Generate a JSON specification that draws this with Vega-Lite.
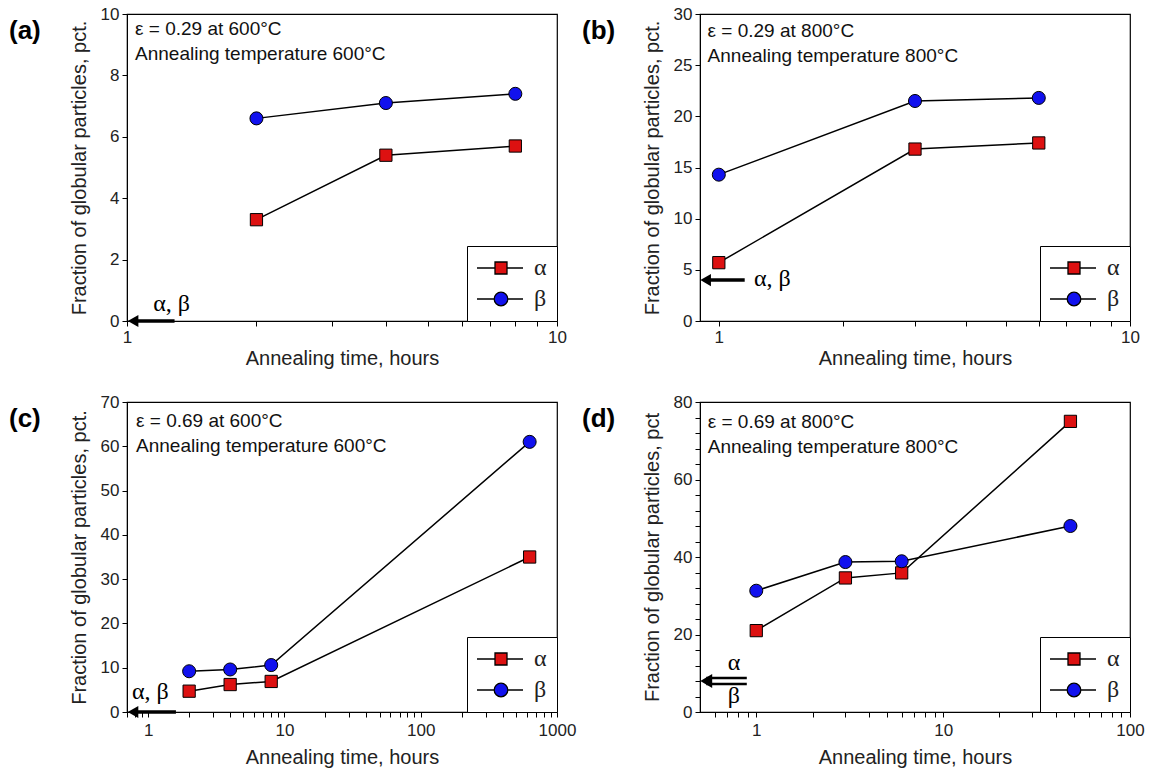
{
  "$schema": "https://vega.github.io/schema/vega-lite/v6.json",
  "background": "white",
  "padding": {"left": 8, "top": 4, "right": 0, "bottom": 0},
  "columns": 2,
  "spacing": {"row": 23, "column": 4},
  "datasets": {
    "a_pts": [
      {"t": 2, "v": 3.3, "phase": "α"}, {"t": 4, "v": 5.4, "phase": "α"}, {"t": 8, "v": 5.7, "phase": "α"},
      {"t": 2, "v": 6.6, "phase": "β"}, {"t": 4, "v": 7.1, "phase": "β"}, {"t": 8, "v": 7.4, "phase": "β"}
    ],
    "b_pts": [
      {"t": 1, "v": 5.7, "phase": "α"}, {"t": 3, "v": 16.8, "phase": "α"}, {"t": 6, "v": 17.4, "phase": "α"},
      {"t": 1, "v": 14.3, "phase": "β"}, {"t": 3, "v": 21.5, "phase": "β"}, {"t": 6, "v": 21.8, "phase": "β"}
    ],
    "c_pts": [
      {"t": 2, "v": 4.7, "phase": "α"}, {"t": 4, "v": 6.2, "phase": "α"}, {"t": 8, "v": 6.9, "phase": "α"}, {"t": 630, "v": 35, "phase": "α"},
      {"t": 2, "v": 9.2, "phase": "β"}, {"t": 4, "v": 9.6, "phase": "β"}, {"t": 8, "v": 10.6, "phase": "β"}, {"t": 630, "v": 61, "phase": "β"}
    ],
    "d_pts": [
      {"t": 1, "v": 21, "phase": "α"}, {"t": 3, "v": 34.6, "phase": "α"}, {"t": 6, "v": 35.9, "phase": "α"}, {"t": 48, "v": 75, "phase": "α"},
      {"t": 1, "v": 31.3, "phase": "β"}, {"t": 3, "v": 38.7, "phase": "β"}, {"t": 6, "v": 38.9, "phase": "β"}, {"t": 48, "v": 48, "phase": "β"}
    ],
    "a_notes": [{"t": 1.044, "v": 9.5, "label": "ε = 0.29 at 600°C"}, {"t": 1.044, "v": 8.7, "label": "Annealing temperature 600°C"}],
    "b_notes": [{"t": 0.939, "v": 28.3, "label": "ε = 0.29 at 800°C"}, {"t": 0.939, "v": 25.9, "label": "Annealing temperature 800°C"}],
    "c_notes": [{"t": 0.815, "v": 65.8, "label": "ε = 0.69 at 600°C"}, {"t": 0.815, "v": 60.1, "label": "Annealing temperature 600°C"}],
    "d_notes": [{"t": 0.55, "v": 74.8, "label": "ε = 0.69 at 800°C"}, {"t": 0.55, "v": 68.4, "label": "Annealing temperature 800°C"}],
    "a_greek": [{"t": 1.27, "v": 0.56, "label": "α, β"}],
    "b_greek": [{"t": 1.35, "v": 4.1, "label": "α, β"}],
    "c_greek": [{"t": 1.04, "v": 4.5, "label": "α, β"}],
    "d_greek": [{"t": 0.76, "v": 12.6, "label": "α"}, {"t": 0.76, "v": 4.1, "label": "β"}],
    "a_shaft": [{"t": 1.033, "t2": 1.29, "v": 0}],
    "b_shaft": [{"t": 0.929, "t2": 1.156, "v": 4}],
    "c_shaft": [{"t": 0.775, "t2": 1.6, "v": 0}],
    "d_shaft": [{"t": 0.54, "t2": 0.89, "v": 8.75}, {"t": 0.54, "t2": 0.89, "v": 7.25}],
    "a_head": [{"t": 1.033, "v": 0}],
    "b_head": [{"t": 0.929, "v": 4}],
    "c_head": [{"t": 0.775, "v": 0}],
    "d_head": [{"t": 0.54, "v": 8}]
  },
  "config": {
    "view": {"stroke": "black", "strokeWidth": 1.2},
    "axis": {
      "domainColor": "black", "tickColor": "black", "grid": false, "tickSize": 5,
      "labelFont": "Liberation Sans", "titleFont": "Liberation Sans",
      "labelFontSize": 17, "titleFontSize": 20, "titleFontWeight": "normal",
      "labelColor": "#222", "titleColor": "#222", "labelFlush": false, "labelOverlap": false,
      "labelPadding": 3
    },
    "axisX": {"titlePadding": 3},
    "axisY": {"titlePadding": 11},
    "legend": {
      "orient": "bottom-right", "offset": 0, "strokeColor": "black", "fillColor": "white",
      "padding": 10, "labelFont": "Liberation Serif", "labelFontSize": 24, "labelColor": "#222",
      "symbolSize": 400, "rowPadding": 7, "labelOffset": 33, "symbolStrokeWidth": 1.3,
      "symbolOpacity": 1, "symbolStrokeColor": "black"
    },
    "title": {"font": "Liberation Sans", "fontSize": 26, "fontWeight": "bold", "anchor": "start", "frame": "group", "dx": -118, "dy": 43, "offset": 0, "color": "black"}
  },
  "resolve": {
    "scale": {"color": "independent", "shape": "independent", "fill": "independent", "stroke": "independent"},
    "legend": {"color": "independent", "shape": "independent", "fill": "independent", "stroke": "independent"}
  },
  "concat": [
    {
      "title": {"text": "(a)"},
      "width": 430, "height": 307,
      "encoding": {
        "x": {"field": "t", "type": "quantitative", "scale": {"type": "log", "domain": [1, 10], "nice": false},
              "axis": {"title": "Annealing time, hours", "values": [1, 2, 3, 4, 5, 6, 7, 8, 9, 10],
                       "labelExpr": "datum.value == 1 || datum.value == 10 || datum.value == 100 || datum.value == 1000 ? format(datum.value, 'd') : ''"}},
        "y": {"field": "v", "type": "quantitative", "scale": {"domain": [0, 10], "nice": false},
              "axis": {"title": "Fraction of globular particles, pct.", "values": [0, 2, 4, 6, 8, 10]}}
      },
      "layer": [
        {"data": {"name": "a_shaft"}, "mark": {"type": "rule", "strokeWidth": 3.5, "color": "black"}, "encoding": {"x2": {"field": "t2"}}},
        {"data": {"name": "a_head"}, "mark": {"type": "point", "shape": "triangle-left", "filled": true, "color": "black", "size": 150, "opacity": 1}},
        {"data": {"name": "a_pts"}, "mark": {"type": "line", "color": "black", "strokeWidth": 1.5}, "encoding": {"detail": {"field": "phase"}}},
        {"data": {"name": "a_pts"},
         "mark": {"type": "point", "filled": true, "strokeWidth": 1.3, "opacity": 0},
         "encoding": {
           "color": {"field": "phase", "type": "nominal", "scale": {"domain": ["α", "β"], "range": ["#dd1111", "#1111ee"]}, "legend": {"title": null}},
           "stroke": {"field": "phase", "type": "nominal", "scale": {"domain": ["α", "β"], "range": ["black", "black"]}, "legend": {"title": null}},
           "shape": {"field": "phase", "type": "nominal", "scale": {"domain": ["α", "β"], "range": ["M-1.2,0H0.6M1.8,0H3.4M0.6,-0.6H1.8V0.6H0.6Z", "M-1.2,0H0.52M1.88,0H3.4M0.52,0A0.68,0.68 0 1,0 1.88,0A0.68,0.68 0 1,0 0.52,0Z"]}, "legend": {"title": null}}
         }},
        {"data": {"name": "a_pts"}, "transform": [{"filter": "datum.phase == 'α'"}],
         "mark": {"type": "point", "shape": "square", "filled": true, "stroke": "black", "strokeWidth": 1, "size": 150, "opacity": 1},
         "encoding": {"fill": {"field": "phase", "type": "nominal", "scale": {"domain": ["α", "β"], "range": ["#dd1111", "#1111ee"]}, "legend": null}}},
        {"data": {"name": "a_pts"}, "transform": [{"filter": "datum.phase == 'β'"}],
         "mark": {"type": "point", "shape": "circle", "filled": true, "stroke": "black", "strokeWidth": 1, "size": 170, "opacity": 1},
         "encoding": {"fill": {"field": "phase", "type": "nominal", "scale": {"domain": ["α", "β"], "range": ["#dd1111", "#1111ee"]}, "legend": null}}},
        {"data": {"name": "a_greek"}, "mark": {"type": "text", "font": "Liberation Serif", "fontSize": 24, "align": "center", "baseline": "middle", "color": "black"}, "encoding": {"text": {"field": "label"}}},
        {"data": {"name": "a_notes"}, "mark": {"type": "text", "font": "Liberation Sans", "fontSize": 19, "align": "left", "baseline": "middle", "color": "#111"}, "encoding": {"text": {"field": "label"}}}
      ]
    },
    {
      "title": {"text": "(b)"},
      "width": 430, "height": 307,
      "encoding": {
        "x": {"field": "t", "type": "quantitative", "scale": {"type": "log", "domain": [0.9, 10], "nice": false},
              "axis": {"title": "Annealing time, hours", "values": [1, 2, 3, 4, 5, 6, 7, 8, 9, 10],
                       "labelExpr": "datum.value == 1 || datum.value == 10 || datum.value == 100 || datum.value == 1000 ? format(datum.value, 'd') : ''"}},
        "y": {"field": "v", "type": "quantitative", "scale": {"domain": [0, 30], "nice": false},
              "axis": {"title": "Fraction of globular particles, pct.", "values": [0, 5, 10, 15, 20, 25, 30]}}
      },
      "layer": [
        {"data": {"name": "b_shaft"}, "mark": {"type": "rule", "strokeWidth": 3.5, "color": "black"}, "encoding": {"x2": {"field": "t2"}}},
        {"data": {"name": "b_head"}, "mark": {"type": "point", "shape": "triangle-left", "filled": true, "color": "black", "size": 150, "opacity": 1}},
        {"data": {"name": "b_pts"}, "mark": {"type": "line", "color": "black", "strokeWidth": 1.5}, "encoding": {"detail": {"field": "phase"}}},
        {"data": {"name": "b_pts"},
         "mark": {"type": "point", "filled": true, "strokeWidth": 1.3, "opacity": 0},
         "encoding": {
           "color": {"field": "phase", "type": "nominal", "scale": {"domain": ["α", "β"], "range": ["#dd1111", "#1111ee"]}, "legend": {"title": null}},
           "stroke": {"field": "phase", "type": "nominal", "scale": {"domain": ["α", "β"], "range": ["black", "black"]}, "legend": {"title": null}},
           "shape": {"field": "phase", "type": "nominal", "scale": {"domain": ["α", "β"], "range": ["M-1.2,0H0.6M1.8,0H3.4M0.6,-0.6H1.8V0.6H0.6Z", "M-1.2,0H0.52M1.88,0H3.4M0.52,0A0.68,0.68 0 1,0 1.88,0A0.68,0.68 0 1,0 0.52,0Z"]}, "legend": {"title": null}}
         }},
        {"data": {"name": "b_pts"}, "transform": [{"filter": "datum.phase == 'α'"}],
         "mark": {"type": "point", "shape": "square", "filled": true, "stroke": "black", "strokeWidth": 1, "size": 150, "opacity": 1},
         "encoding": {"fill": {"field": "phase", "type": "nominal", "scale": {"domain": ["α", "β"], "range": ["#dd1111", "#1111ee"]}, "legend": null}}},
        {"data": {"name": "b_pts"}, "transform": [{"filter": "datum.phase == 'β'"}],
         "mark": {"type": "point", "shape": "circle", "filled": true, "stroke": "black", "strokeWidth": 1, "size": 170, "opacity": 1},
         "encoding": {"fill": {"field": "phase", "type": "nominal", "scale": {"domain": ["α", "β"], "range": ["#dd1111", "#1111ee"]}, "legend": null}}},
        {"data": {"name": "b_greek"}, "mark": {"type": "text", "font": "Liberation Serif", "fontSize": 24, "align": "center", "baseline": "middle", "color": "black"}, "encoding": {"text": {"field": "label"}}},
        {"data": {"name": "b_notes"}, "mark": {"type": "text", "font": "Liberation Sans", "fontSize": 19, "align": "left", "baseline": "middle", "color": "#111"}, "encoding": {"text": {"field": "label"}}}
      ]
    },
    {
      "title": {"text": "(c)"},
      "width": 430, "height": 310,
      "encoding": {
        "x": {"field": "t", "type": "quantitative", "scale": {"type": "log", "domain": [0.7, 1000], "nice": false},
              "axis": {"title": "Annealing time, hours", "titlePadding": 9, "labelPadding": 5, "values": [0.7, 0.8, 0.9, 1, 2, 3, 4, 5, 6, 7, 8, 9, 10, 20, 30, 40, 50, 60, 70, 80, 90, 100, 200, 300, 400, 500, 600, 700, 800, 900, 1000],
                       "labelExpr": "datum.value == 1 || datum.value == 10 || datum.value == 100 || datum.value == 1000 ? format(datum.value, 'd') : ''"}},
        "y": {"field": "v", "type": "quantitative", "scale": {"domain": [0, 70], "nice": false},
              "axis": {"title": "Fraction of globular particles, pct.", "values": [0, 10, 20, 30, 40, 50, 60, 70]}}
      },
      "layer": [
        {"data": {"name": "c_shaft"}, "mark": {"type": "rule", "strokeWidth": 3.5, "color": "black"}, "encoding": {"x2": {"field": "t2"}}},
        {"data": {"name": "c_head"}, "mark": {"type": "point", "shape": "triangle-left", "filled": true, "color": "black", "size": 150, "opacity": 1}},
        {"data": {"name": "c_pts"}, "mark": {"type": "line", "color": "black", "strokeWidth": 1.5}, "encoding": {"detail": {"field": "phase"}}},
        {"data": {"name": "c_pts"},
         "mark": {"type": "point", "filled": true, "strokeWidth": 1.3, "opacity": 0},
         "encoding": {
           "color": {"field": "phase", "type": "nominal", "scale": {"domain": ["α", "β"], "range": ["#dd1111", "#1111ee"]}, "legend": {"title": null}},
           "stroke": {"field": "phase", "type": "nominal", "scale": {"domain": ["α", "β"], "range": ["black", "black"]}, "legend": {"title": null}},
           "shape": {"field": "phase", "type": "nominal", "scale": {"domain": ["α", "β"], "range": ["M-1.2,0H0.6M1.8,0H3.4M0.6,-0.6H1.8V0.6H0.6Z", "M-1.2,0H0.52M1.88,0H3.4M0.52,0A0.68,0.68 0 1,0 1.88,0A0.68,0.68 0 1,0 0.52,0Z"]}, "legend": {"title": null}}
         }},
        {"data": {"name": "c_pts"}, "transform": [{"filter": "datum.phase == 'α'"}],
         "mark": {"type": "point", "shape": "square", "filled": true, "stroke": "black", "strokeWidth": 1, "size": 150, "opacity": 1},
         "encoding": {"fill": {"field": "phase", "type": "nominal", "scale": {"domain": ["α", "β"], "range": ["#dd1111", "#1111ee"]}, "legend": null}}},
        {"data": {"name": "c_pts"}, "transform": [{"filter": "datum.phase == 'β'"}],
         "mark": {"type": "point", "shape": "circle", "filled": true, "stroke": "black", "strokeWidth": 1, "size": 170, "opacity": 1},
         "encoding": {"fill": {"field": "phase", "type": "nominal", "scale": {"domain": ["α", "β"], "range": ["#dd1111", "#1111ee"]}, "legend": null}}},
        {"data": {"name": "c_greek"}, "mark": {"type": "text", "font": "Liberation Serif", "fontSize": 24, "align": "center", "baseline": "middle", "color": "black"}, "encoding": {"text": {"field": "label"}}},
        {"data": {"name": "c_notes"}, "mark": {"type": "text", "font": "Liberation Sans", "fontSize": 19, "align": "left", "baseline": "middle", "color": "#111"}, "encoding": {"text": {"field": "label"}}}
      ]
    },
    {
      "title": {"text": "(d)"},
      "width": 430, "height": 310,
      "encoding": {
        "x": {"field": "t", "type": "quantitative", "scale": {"type": "log", "domain": [0.5, 100], "nice": false},
              "axis": {"title": "Annealing time, hours", "titlePadding": 9, "labelPadding": 5, "values": [0.6, 0.7, 0.8, 0.9, 1, 2, 3, 4, 5, 6, 7, 8, 9, 10, 20, 30, 40, 50, 60, 70, 80, 90, 100],
                       "labelExpr": "datum.value == 1 || datum.value == 10 || datum.value == 100 || datum.value == 1000 ? format(datum.value, 'd') : ''"}},
        "y": {"field": "v", "type": "quantitative", "scale": {"domain": [0, 80], "nice": false},
              "axis": {"title": "Fraction of globular particles, pct", "values": [0, 4, 8, 12, 16, 20, 24, 28, 32, 36, 40, 44, 48, 52, 56, 60, 64, 68, 72, 76, 80],
                       "labelExpr": "datum.value % 20 == 0 ? datum.label : ''"}}
      },
      "layer": [
        {"data": {"name": "d_shaft"}, "mark": {"type": "rule", "strokeWidth": 2.5, "color": "black"}, "encoding": {"x2": {"field": "t2"}}},
        {"data": {"name": "d_head"}, "mark": {"type": "point", "shape": "triangle-left", "filled": true, "color": "black", "size": 190, "opacity": 1}},
        {"data": {"name": "d_pts"}, "mark": {"type": "line", "color": "black", "strokeWidth": 1.5}, "encoding": {"detail": {"field": "phase"}}},
        {"data": {"name": "d_pts"},
         "mark": {"type": "point", "filled": true, "strokeWidth": 1.3, "opacity": 0},
         "encoding": {
           "color": {"field": "phase", "type": "nominal", "scale": {"domain": ["α", "β"], "range": ["#dd1111", "#1111ee"]}, "legend": {"title": null}},
           "stroke": {"field": "phase", "type": "nominal", "scale": {"domain": ["α", "β"], "range": ["black", "black"]}, "legend": {"title": null}},
           "shape": {"field": "phase", "type": "nominal", "scale": {"domain": ["α", "β"], "range": ["M-1.2,0H0.6M1.8,0H3.4M0.6,-0.6H1.8V0.6H0.6Z", "M-1.2,0H0.52M1.88,0H3.4M0.52,0A0.68,0.68 0 1,0 1.88,0A0.68,0.68 0 1,0 0.52,0Z"]}, "legend": {"title": null}}
         }},
        {"data": {"name": "d_pts"}, "transform": [{"filter": "datum.phase == 'α'"}],
         "mark": {"type": "point", "shape": "square", "filled": true, "stroke": "black", "strokeWidth": 1, "size": 150, "opacity": 1},
         "encoding": {"fill": {"field": "phase", "type": "nominal", "scale": {"domain": ["α", "β"], "range": ["#dd1111", "#1111ee"]}, "legend": null}}},
        {"data": {"name": "d_pts"}, "transform": [{"filter": "datum.phase == 'β'"}],
         "mark": {"type": "point", "shape": "circle", "filled": true, "stroke": "black", "strokeWidth": 1, "size": 170, "opacity": 1},
         "encoding": {"fill": {"field": "phase", "type": "nominal", "scale": {"domain": ["α", "β"], "range": ["#dd1111", "#1111ee"]}, "legend": null}}},
        {"data": {"name": "d_greek"}, "mark": {"type": "text", "font": "Liberation Serif", "fontSize": 24, "align": "center", "baseline": "middle", "color": "black"}, "encoding": {"text": {"field": "label"}}},
        {"data": {"name": "d_notes"}, "mark": {"type": "text", "font": "Liberation Sans", "fontSize": 19, "align": "left", "baseline": "middle", "color": "#111"}, "encoding": {"text": {"field": "label"}}}
      ]
    }
  ]
}
